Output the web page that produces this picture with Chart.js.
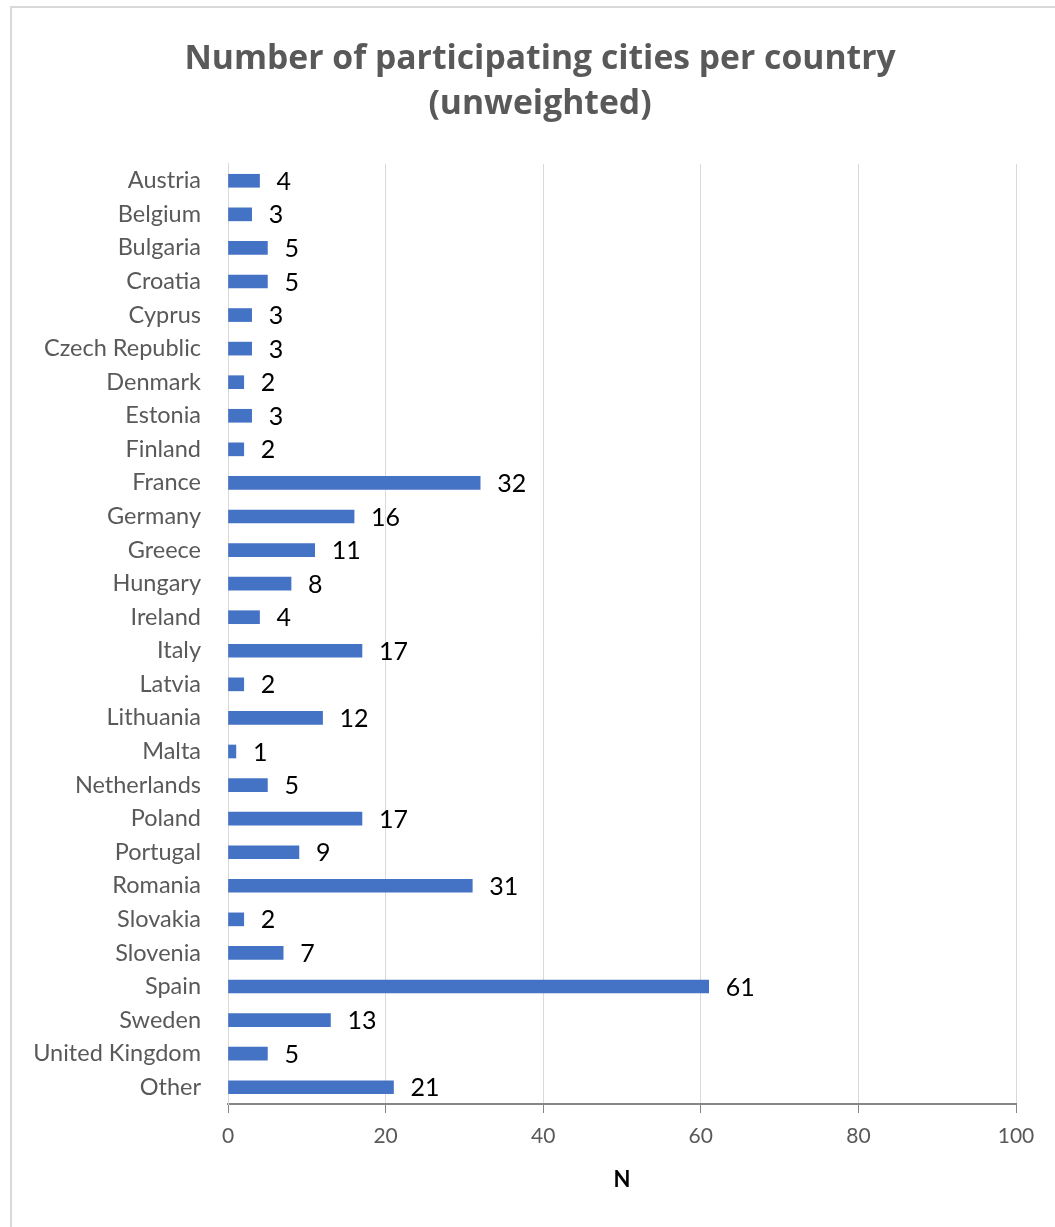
<!DOCTYPE html>
<html>
<head>
<meta charset="utf-8">
<script src="https://cdn.jsdelivr.net/npm/chart.js@4.4.0/dist/chart.umd.min.js"></script>
<style>
  body { margin: 0; background: #fff; overflow: hidden; }
  #wrap { position: absolute; left: 0; top: 0; width: 1055px; height: 1227px; }
  #frame { position: absolute; left: 10px; top: 6px; width: 1100px; height: 1300px;
           border-left: 2px solid #d9d9d9; border-top: 2px solid #d9d9d9; pointer-events: none; }
</style>
</head>
<body>
<div id="wrap"><canvas id="myBar"></canvas></div>
<div id="frame"></div>
<script>
const countries = [
  'Austria', 'Belgium', 'Bulgaria', 'Croatia', 'Cyprus', 'Czech Republic',
  'Denmark', 'Estonia', 'Finland', 'France', 'Germany', 'Greece', 'Hungary',
  'Ireland', 'Italy', 'Latvia', 'Lithuania', 'Malta', 'Netherlands', 'Poland',
  'Portugal', 'Romania', 'Slovakia', 'Slovenia', 'Spain', 'Sweden',
  'United Kingdom', 'Other'
];
const cities = [4, 3, 5, 5, 3, 3, 2, 3, 2, 32, 16, 11, 8, 4, 17, 2, 12, 1, 5, 17, 9, 31, 2, 7, 61, 13, 5, 21];
const xTicks = [0, 20, 40, 60, 80, 100];

// numbers next to each bar
const valueLabels = {
  id: 'valueLabels',
  afterDatasetsDraw(chart) {
    const ctx = chart.ctx;
    const meta = chart.getDatasetMeta(0);
    ctx.save();
    ctx.font = '25px Lato';
    ctx.fillStyle = '#000';
    ctx.textBaseline = 'middle';
    meta.data.forEach((bar, i) => {
      ctx.fillText(cities[i], bar.x + 17, bar.y + 1);
    });
    ctx.restore();
  }
};

const config = {
  type: 'bar',
  data: {
    labels: countries,
    datasets: [{
      data: cities,
      backgroundColor: '#4472c4',
      barThickness: 13
    }]
  },
  options: {
    indexAxis: 'y',
    responsive: true,
    maintainAspectRatio: false,
    animation: false,
    layout: { padding: { left: 25, right: 0, top: 0, bottom: 0 } },
    plugins: {
      legend: { display: false },
      tooltip: { enabled: false },
      title: {
        display: true,
        text: ['Number of participating cities per country', '(unweighted)'],
        color: '#595959',
        font: { family: 'Open Sans', size: 33.7, weight: 'bold', lineHeight: 1.335 },
        padding: { top: 37, bottom: 37 }
      }
    },
    scales: {
      x: {
        min: 0,
        max: 100,
        afterBuildTicks: s => { s.ticks = xTicks.map(v => ({ value: v })); },
        afterFit: s => { s.height = 123; },
        ticks: { color: '#595959', font: { family: 'Lato', size: 21 }, padding: 11 },
        grid: { color: '#d9d9d9', tickColor: '#868686', tickLength: 9 },
        border: { color: '#868686', width: 2 },
        title: {
          display: true,
          text: 'N',
          color: '#000',
          font: { family: 'Lato', size: 22, weight: 'bold' },
          padding: { top: 0, bottom: 34 }
        }
      },
      y: {
        afterFit: s => { s.width = 203; },
        ticks: { color: '#595959', font: { family: 'Lato', size: 23.5 }, padding: 27 },
        grid: { display: false, drawTicks: false },
        border: { color: '#d9d9d9', width: 1 }
      },
      // empty right-hand space so the plot ends at 100 where the reference does
      yRight: {
        type: 'category',
        position: 'right',
        afterFit: s => { s.width = 39; },
        ticks: { display: false },
        grid: { display: false, drawTicks: false },
        border: { display: false }
      }
    }
  },
  plugins: [valueLabels]
};

var myBar = new Chart(document.getElementById('myBar'), config);
</script>
</body>
</html>
